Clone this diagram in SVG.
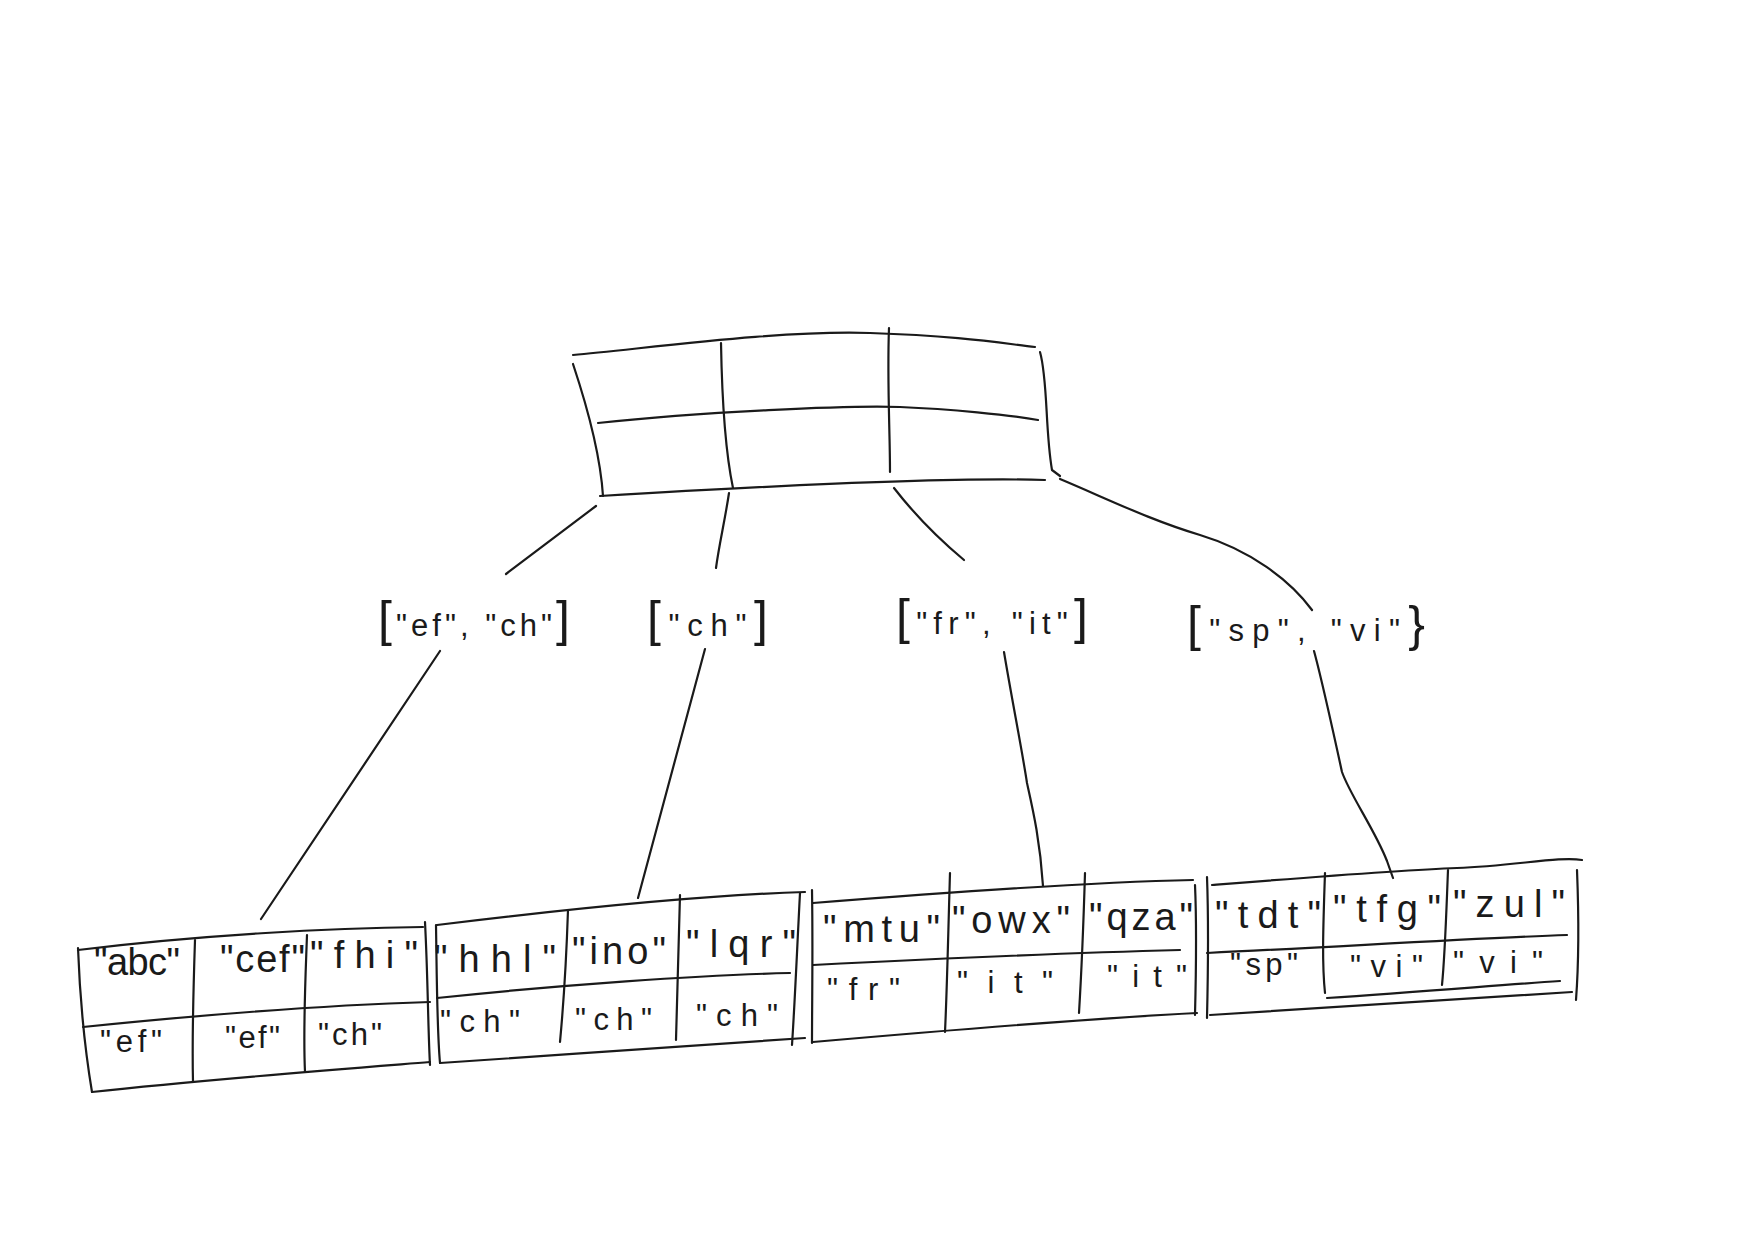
<svg xmlns="http://www.w3.org/2000/svg" width="1754" height="1244" viewBox="0 0 1754 1244">
<style>
.ln{fill:none;stroke:#1a1a1a;stroke-width:2.2;stroke-linecap:round;stroke-linejoin:round}
.t{font-family:"Liberation Sans",Arial,sans-serif;fill:#1a1a1a}
.r1{font-size:38px}
.r2{font-size:31px}
.lb{font-size:31px}
.br{font-size:50px}
</style>
<rect width="1754" height="1244" fill="#ffffff"/>
<g id="root">
<path class="ln" d="M573,355 C650,348 780,330 870,333 S1000,343 1035,347"/>
<path class="ln" d="M573,364 C585,400 600,450 603,496"/>
<path class="ln" d="M1040,352 C1048,380 1045,430 1052,470 L1060,476"/>
<path class="ln" d="M598,423 C700,412 850,405 900,407 S1010,415 1038,420"/>
<path class="ln" d="M600,496 C750,487 950,477 1045,480"/>
<path class="ln" d="M721,343 C722,400 725,450 733,488"/>
<path class="ln" d="M889,328 C887,380 890,430 890,472"/>
</g>
<g id="connectors">
<path class="ln" d="M596,506 L506,574"/>
<path class="ln" d="M729,493 C725,520 719,545 716,568"/>
<path class="ln" d="M894,488 C915,515 940,540 964,560"/>
<path class="ln" d="M1060,479 C1110,500 1150,520 1200,535 S1290,580 1312,610"/>
<path class="ln" d="M440,651 L261,919"/>
<path class="ln" d="M705,649 L638,898"/>
<path class="ln" d="M1004,652 C1012,700 1022,750 1027,783 C1033,810 1040,840 1043,886"/>
<path class="ln" d="M1314,651 C1322,680 1335,740 1342,772 C1350,795 1375,830 1387,861 L1393,878"/>
</g>
<g id="label1">
<text class="t lb" x="378" y="636" textLength="192" lengthAdjust="spacing"><tspan class="br">[</tspan>"ef", "ch"<tspan class="br">]</tspan></text>
</g>
<g id="label2">
<text class="t lb" x="647" y="636" textLength="121" lengthAdjust="spacing"><tspan class="br">[</tspan>"ch"<tspan class="br">]</tspan></text>
</g>
<g id="label3">
<text class="t lb" x="896" y="634" textLength="192" lengthAdjust="spacing"><tspan class="br">[</tspan>"fr", "it"<tspan class="br">]</tspan></text>
</g>
<g id="label4">
<text class="t lb" x="1187" y="641" textLength="238" lengthAdjust="spacing"><tspan class="br">[</tspan>"sp", "vi"<tspan class="br">}</tspan></text>
</g>
<g id="leaf1">
<path class="ln" d="M78,950 C200,935 330,928 423,927"/>
<path class="ln" d="M78,948 C80,1000 85,1050 92,1092"/>
<path class="ln" d="M92,1092 C200,1080 330,1070 430,1062"/>
<path class="ln" d="M425,922 C428,980 428,1030 430,1065"/>
<path class="ln" d="M83,1027 C200,1015 330,1005 430,1002"/>
<path class="ln" d="M195,940 C193,1000 192,1040 193,1082"/>
<path class="ln" d="M307,935 C305,990 303,1030 305,1072"/>
<text class="t r1" x="94" y="975" textLength="86" lengthAdjust="spacing">"abc"</text>
<text class="t r1" x="220" y="972" textLength="85" lengthAdjust="spacing">"cef"</text>
<text class="t r1" x="310" y="968" textLength="108" lengthAdjust="spacing">"fhi"</text>
<text class="t r2" x="100" y="1052" textLength="62" lengthAdjust="spacing">"ef"</text>
<text class="t r2" x="225" y="1048" textLength="55" lengthAdjust="spacing">"ef"</text>
<text class="t r2" x="318" y="1045" textLength="64" lengthAdjust="spacing">"ch"</text>
</g>
<g id="leaf2">
<path class="ln" d="M437,925 C560,910 700,895 805,892"/>
<path class="ln" d="M800,893 C797,950 795,1000 792,1045"/>
<path class="ln" d="M440,1063 C560,1055 700,1045 805,1038"/>
<path class="ln" d="M436,925 C437,990 437,1030 440,1063"/>
<path class="ln" d="M437,998 C560,985 700,975 790,973"/>
<path class="ln" d="M568,910 C566,970 563,1010 560,1042"/>
<path class="ln" d="M680,895 C678,960 677,1000 676,1040"/>
<text class="t r1" x="434" y="972" textLength="122" lengthAdjust="spacing">"hhl"</text>
<text class="t r1" x="572" y="964" textLength="94" lengthAdjust="spacing">"ino"</text>
<text class="t r1" x="686" y="957" textLength="110" lengthAdjust="spacing">"lqr"</text>
<text class="t r2" x="440" y="1032" textLength="80" lengthAdjust="spacing">"ch"</text>
<text class="t r2" x="575" y="1030" textLength="77" lengthAdjust="spacing">"ch"</text>
<text class="t r2" x="696" y="1026" textLength="82" lengthAdjust="spacing">"ch"</text>
</g>
<g id="leaf3">
<path class="ln" d="M812,890 C813,950 812,1000 812,1043"/>
<path class="ln" d="M813,903 C950,892 1100,882 1193,880"/>
<path class="ln" d="M1195,885 C1197,930 1196,975 1195,1015"/>
<path class="ln" d="M813,1042 C950,1030 1100,1018 1197,1013"/>
<path class="ln" d="M813,965 C950,958 1100,952 1180,950"/>
<path class="ln" d="M950,873 C948,940 947,990 945,1032"/>
<path class="ln" d="M1085,873 C1083,940 1081,980 1079,1013"/>
<text class="t r1" x="823" y="942" textLength="117" lengthAdjust="spacing">"mtu"</text>
<text class="t r1" x="952" y="933" textLength="118" lengthAdjust="spacing">"owx"</text>
<text class="t r1" x="1089" y="930" textLength="104" lengthAdjust="spacing">"qza"</text>
<text class="t r2" x="827" y="1000" textLength="73" lengthAdjust="spacing">"fr"</text>
<text class="t r2" x="957" y="993" textLength="96" lengthAdjust="spacing">"it"</text>
<text class="t r2" x="1107" y="987" textLength="80" lengthAdjust="spacing">"it"</text>
</g>
<g id="leaf4">
<path class="ln" d="M1207,877 C1209,930 1208,975 1207,1018"/>
<path class="ln" d="M1212,885 C1300,878 1400,870 1457,868 S1560,856 1582,860"/>
<path class="ln" d="M1577,870 C1579,920 1579,960 1576,1000"/>
<path class="ln" d="M1210,1015 C1350,1007 1480,998 1572,992"/>
<path class="ln" d="M1327,998 C1420,992 1500,985 1560,981"/>
<path class="ln" d="M1207,953 C1350,946 1480,938 1567,935"/>
<path class="ln" d="M1325,873 C1323,930 1322,965 1325,993"/>
<path class="ln" d="M1448,870 C1446,920 1445,955 1442,985"/>
<text class="t r1" x="1215" y="928" textLength="106" lengthAdjust="spacing">"tdt"</text>
<text class="t r1" x="1333" y="922" textLength="108" lengthAdjust="spacing">"tfg"</text>
<text class="t r1" x="1453" y="917" textLength="112" lengthAdjust="spacing">"zul"</text>
<text class="t r2" x="1230" y="975" textLength="68" lengthAdjust="spacing">"sp"</text>
<text class="t r2" x="1350" y="977" textLength="73" lengthAdjust="spacing">"vi"</text>
<text class="t r2" x="1453" y="973" textLength="90" lengthAdjust="spacing">"vi"</text>
</g>
</svg>
